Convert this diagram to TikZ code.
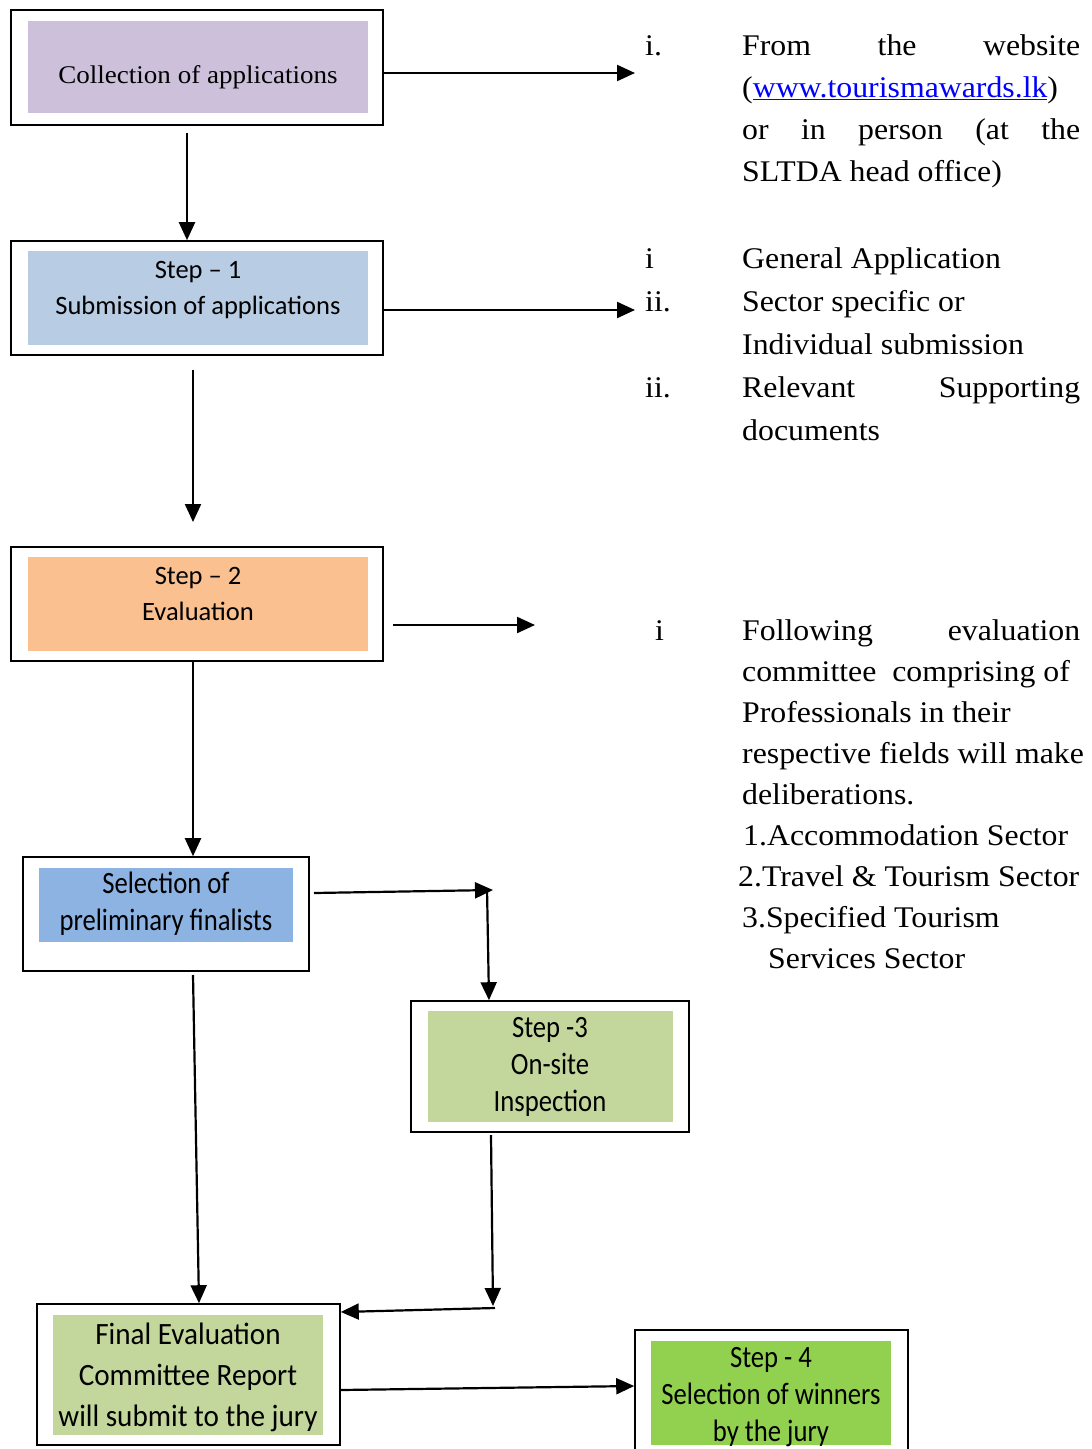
\documentclass[tikz,border=0pt]{standalone}
\usepackage{fontspec}
\setmainfont[FakeStretch=1.06]{Liberation Serif}
\newfontfamily\boxfont{Carlito}
\newfontfamily\tallfont[FakeStretch=0.86]{Carlito}
\newfontfamily\reportfont[FakeStretch=0.94]{Carlito}
\usepackage{xcolor}
\usetikzlibrary{arrows.meta}
\definecolor{lavender}{HTML}{CCC0DA}
\definecolor{paleblue}{HTML}{B8CCE4}
\definecolor{peach}{HTML}{FAC090}
\definecolor{midblue}{HTML}{8DB3E2}
\definecolor{olive}{HTML}{C3D69B}
\definecolor{leaf}{HTML}{92D050}
\definecolor{linkblue}{HTML}{0000FF}
\tikzstyle{outer box}=[draw,line width=1.6pt,inner sep=0pt]
\tikzstyle{fill box}=[inner sep=0pt]
\tikzstyle{box text}=[anchor=base,inner sep=0pt,font=\boxfont\fontsize{26.5}{36}\selectfont]
\tikzstyle{tall text}=[anchor=base,inner sep=0pt,font=\tallfont\fontsize{31}{37}\selectfont]
\tikzstyle{side text}=[anchor=base west,inner sep=0pt,font=\fontsize{30}{42}\selectfont]
\tikzstyle{arrow}=[draw,line width=2.2pt,-{Triangle[length=18pt,width=16pt]}]
\newcommand{\itemno}[1]{\makebox[97pt][l]{#1}}
\newcommand{\spread}[1]{\makebox[338pt][s]{#1}}
\newcommand{\gap}{\hspace*{97pt}}

\begin{document}
\begin{tikzpicture}[x=1pt,y=-1pt]
    \useasboundingbox (0,0) rectangle (1092,1449);
    % boxes
    \foreach \name/\pos/\w/\h in {{collect/(197,67.5)/372/115}, {submit/(197,298)/372/114},
        {eval/(197,604)/372/114}, {prelim/(166,914)/286/114}, {inspect/(550,1066.5)/278/131},
        {report/(188.5,1374.5)/303/141}, {winners/(771.5,1395)/273/130}}
        \node[outer box,minimum width=\w,minimum height=\h] (\name) at \pos {};
    \foreach \name/\pos/\w/\h/\col in {{collect/(198,67)/340/92/lavender}, {submit/(198,298)/340/94/paleblue},
        {eval/(198,604)/340/94/peach}, {prelim/(166,905)/254/74/midblue}, {inspect/(550.5,1066.5)/245/111/olive},
        {report/(188,1375)/270/120/olive}, {winners/(771,1393)/240/104/leaf}}
        \node[fill box,fill=\col,minimum width=\w,minimum height=\h] (\name-fill) at \pos {};
    % box texts
    \node[anchor=base,inner sep=0pt,font=\fontsize{25.5}{36}\selectfont] (collect-text) at (198,83) {Collection of applications};
    \node[box text] (submit-text) at (198,278) {\parbox[t]{340pt}{\centering Step – 1\\Submission of applications}};
    \node[box text] (eval-text) at (198,584) {\parbox[t]{340pt}{\centering Step – 2\\Evaluation}};
    \node[tall text] (prelim-text) at (166,893) {\parbox[t]{254pt}{\centering Selection of\\preliminary finalists}};
    \node[tall text] (inspect-text) at (550,1037) {\parbox[t]{245pt}{\centering Step -3\\On-site\\Inspection}};
    \node[tall text,font=\reportfont\fontsize{31}{41}\selectfont] (report-text) at (188,1344) {\parbox[t]{270pt}{\centering Final Evaluation\\Committee Report\\will submit to the jury}};
    \node[tall text,font=\tallfont\fontsize{31}{37}\selectfont] (winners-text) at (771,1367) {\parbox[t]{240pt}{\centering Step - 4\\Selection of winners\\by the jury}};
    % side notes
    \node[side text] (source-note) at (645,55) {\parbox[t]{480pt}{\raggedright\itemno{i.}\spread{From the website}\\
        \gap(\textcolor{linkblue}{\underline{www.tourismawards.lk}})\\
        \gap\spread{or in person (at the}\\
        \gap SLTDA head office)}};
    \node[side text,font=\fontsize{30}{43}\selectfont] (docs-note) at (645,268) {\parbox[t]{480pt}{\raggedright\itemno{i}General Application\\
        \itemno{ii.}Sector specific or\\
        \gap Individual submission\\
        \itemno{ii.}\spread{Relevant Supporting}\\
        \gap documents}};
    \node[side text,font=\fontsize{30}{41.1}\selectfont] (panel-note) at (655,640) {\makebox[87pt][l]{i}\parbox[t]{400pt}{\raggedright\spread{Following evaluation}\\
        committee\ \ comprising of\\
        Professionals in their\\
        respective fields will make\\
        deliberations.\\
        \hspace*{1pt}1.Accommodation Sector\\
        \hspace*{-4pt}2.Travel \& Tourism Sector\\
        3.Specified Tourism\\
        \hspace*{26pt}Services Sector}};
    % connectors
    \coordinate (c1) at (635,73);
    \coordinate (c2) at (635,310);
    \coordinate (d1) at (187,133);
    \coordinate (d2) at (193,370);
    \coordinate (e2) at (193,522);
    \coordinate (c3) at (393,625);
    \coordinate (e3) at (535,625);
    \coordinate (p1) at (314,893);
    \coordinate (k1) at (493,890);
    \coordinate (k2) at (487,888);
    \coordinate (p2) at (193,975);
    \coordinate (p3) at (491,1135);
    \coordinate (k3) at (493,1306);
    \coordinate (k4) at (495,1308);
    \path[arrow] (collect.east |- c1) -- (c1);
    \path[arrow] (d1) -- (d1 |- submit.north);
    \path[arrow] (submit.east |- c2) -- (c2);
    \path[arrow] (d2) -- (e2);
    \path[arrow] (c3) -- (e3);
    \path[arrow] (eval.south -| d2) -- (prelim.north -| d2);
    \path[arrow] (p1) -- (k1);
    \path[arrow] (k2) -- (inspect.north -| 489,0);
    \path[arrow] (p2) -- (report.north -| 199,0);
    \path[arrow] (p3) -- (k3);
    \path[arrow] (k4) -- (report.east |- 0,1312);
    \path[arrow] (report.east |- 0,1390) -- (winners.west |- 0,1386);
\end{tikzpicture}
\end{document}
